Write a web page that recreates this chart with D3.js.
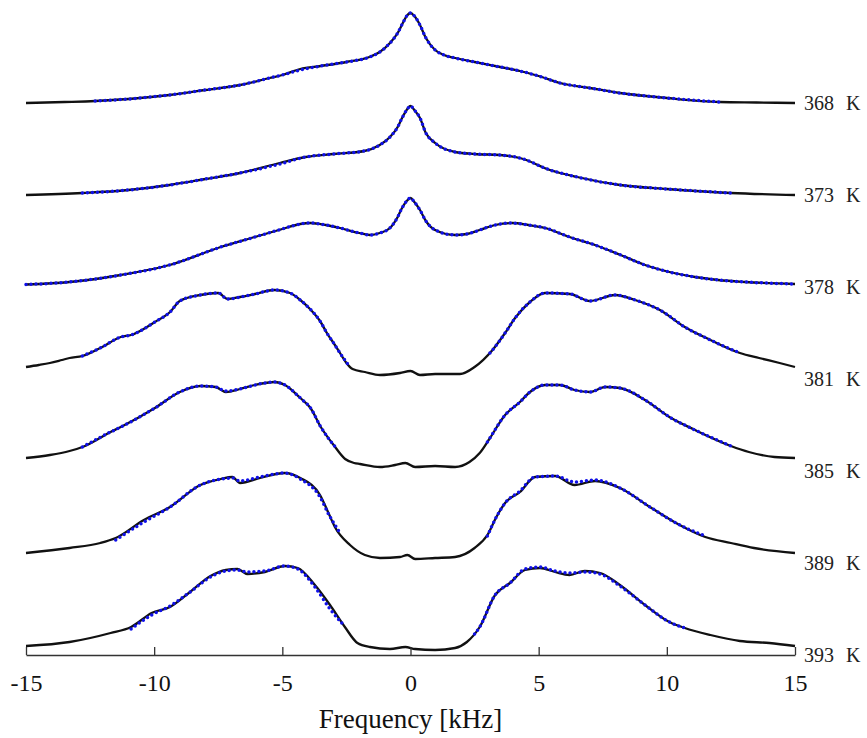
<!DOCTYPE html>
<html><head><meta charset="utf-8">
<script src="https://cdn.jsdelivr.net/npm/d3@7"></script>
<style>body{margin:0;background:#fff}</style>
</head><body>
<svg id="chart" width="867" height="738"></svg>
<script>
// Temperatures (top to bottom)
const temperatures = [368, 373, 378, 381, 385, 389, 393];
const xTicks = [-15, -10, -5, 0, 5, 10, 15];

// Experimental spectra: [frequency kHz, intensity a.u.]
const exp368 = [[-15,0],[-13.5,1],[-12.3,2],[-11,4],[-9.4,8],[-8,13],[-6.65,18],[-5.5,25],[-5,28],[-4.3,34],[-3.5,37],[-2.5,41],[-1.6,46],[-1.2,51],[-0.8,60],[-0.5,70],[-0.3,80],[-0.15,87],[0,90],[0.15,87],[0.35,79],[0.6,65],[0.96,53],[1.3,48],[1.74,45],[2.5,41],[3.5,36],[4.27,32],[5,27],[5.83,20],[7,15],[8.17,10],[10,5],[12.07,1],[13.5,0.5],[15,0]];
const exp373 = [[-15,0],[-12.8,2],[-11,5],[-9.4,10],[-8,16],[-6.65,22],[-5.1,32],[-4.1,38],[-3,41],[-1.8,44],[-1.2,50],[-0.8,58],[-0.5,68],[-0.33,77],[-0.15,85],[0,89],[0.15,85],[0.37,77],[0.6,62],[0.96,52],[1.74,43],[2.5,41],[3.49,40],[4.27,37],[5.44,25],[6.5,18],[8.17,10],[10,6],[12.5,2],[15,0]];
const exp378 = [[-15,2.5],[-13.3,5],[-11.3,12],[-9.4,22],[-7.4,40],[-6.07,50],[-5,58],[-4.3,63],[-3.9,64],[-3.3,62],[-2.75,59],[-2,54],[-1.58,52],[-1.2,54],[-0.8,59],[-0.5,70],[-0.33,79],[-0.15,86],[0,89],[0.15,85],[0.37,77],[0.6,66],[0.96,57],[1.74,52],[2.2,53],[2.7,57],[3.3,62],[3.96,64],[4.6,62],[5.25,59],[6.2,50],[7.2,42],[8.2,32],[9.15,22],[10.1,15],[11.1,10],[12,7],[13.05,5],[15,3]];
const exp381 = [[-15,12],[-14.5,14],[-14.07,16],[-13.6,19],[-13.3,21],[-12.8,23],[-12.1,31],[-11.3,42],[-10.9,44],[-9.97,57],[-9.38,67],[-9,78],[-8.2,84],[-7.5,86],[-7.14,80],[-6.65,82],[-6.07,85],[-5.3,89],[-4.7,86],[-4.3,79],[-3.92,70],[-3.53,58],[-3.24,45],[-3,36],[-2.75,26],[-2.5,16],[-2.26,10],[-1.78,7],[-1.19,4],[-0.41,6],[0,8],[0.37,4],[0.96,5],[1.93,5],[2.5,12],[3.2,29],[3.69,46],[4.08,61],[4.66,77],[5.25,86],[6.22,85],[7,78],[7.98,84],[8.76,79],[9.73,69],[10.7,52],[11.7,39],[12.85,26],[13.6,21],[14.4,16],[15,12]];
const exp385 = [[-15,13],[-14.07,16],[-13.3,20],[-12.8,24],[-11.7,39],[-11.3,44],[-9.97,63],[-9,79],[-8.2,85],[-7.6,84],[-7.2,79],[-6.65,82],[-6.07,86],[-5.3,89],[-4.9,86],[-4.3,73],[-3.9,63],[-3.5,44],[-3,26],[-2.55,12],[-2.2,8],[-1.97,7],[-1.19,4],[-0.6,6],[-0.2,8],[0.18,4],[0.96,5],[1.74,4],[2.3,9],[2.7,18],[3.1,33],[3.69,56],[4.27,69],[4.66,79],[5.25,86],[5.83,86],[6.4,81],[7,79],[7.6,84],[8.17,83],[9.15,71],[10.1,54],[11.1,41],[12.5,25],[13.2,19],[14.2,14],[15,13]];
const exp389 = [[-15,10],[-13.3,15],[-12.1,20],[-11.5,25],[-10.4,43],[-9.38,56],[-8.2,78],[-7.4,84],[-6.95,86],[-6.65,80],[-5.87,85],[-4.9,90],[-4.3,85],[-3.53,68],[-3.2,50],[-2.95,36],[-2.36,18],[-1.78,8],[-1.19,5],[-0.41,6],[-0.12,8],[0.18,4],[0.96,5],[1.74,6],[2.5,15],[3,28],[3.35,46],[3.69,60],[4.27,71],[4.86,86],[5.64,87],[6.4,78],[7.2,82],[8.17,75],[9.34,56],[10.5,38],[11.5,26],[12.5,20],[13.4,15],[15,10]];
const exp393 = [[-15,9],[-13.3,13],[-11.7,22],[-10.9,28],[-10.1,42],[-9.38,48],[-8.6,63],[-7.8,79],[-7.2,85],[-6.75,86],[-6.36,81],[-5.68,83],[-4.9,89],[-4.4,87],[-3.73,70],[-3.14,50],[-2.56,28],[-2.07,12],[-1.58,8],[-0.8,6],[-0.2,8],[0.18,6],[0.96,5],[1.74,7],[2.2,13],[2.7,28],[3.3,60],[3.88,72],[4.47,85],[5.05,87],[5.64,83],[6.2,80],[6.8,84],[7.4,82],[8.17,70],[9.15,50],[10.1,33],[10.7,27],[11.7,20],[12.85,14],[14,12],[15,9]];

// Simulated spectra (blue dotted), each as a list of segments
const sim368 = [[[-12.3,2],[-11,4],[-9.4,8],[-8,13],[-6.65,18],[-5.5,25],[-5,28],[-4.3,33],[-3.5,37],[-2.5,41],[-1.6,46],[-1.2,51],[-0.8,60],[-0.5,70],[-0.3,80],[-0.15,87],[0,90],[0.15,87],[0.35,79],[0.6,65],[0.96,53],[1.3,48],[1.74,45],[2.5,41],[3.5,36],[4.27,32],[5,27],[5.83,20],[7,15],[8.17,10],[10,5],[12.07,1]]];
const sim373 = [[[-12.8,2],[-11,5],[-9.4,10],[-8,16],[-6.65,22],[-5.1,31],[-4.1,38],[-3,41],[-1.8,44],[-1.2,50],[-0.8,58],[-0.5,68],[-0.33,77],[-0.15,85],[0,89],[0.15,85],[0.37,77],[0.6,62],[0.96,52],[1.74,43],[2.5,41],[3.49,40],[4.27,37],[5.44,25],[6.5,18],[8.17,10],[10,6],[12.5,2]]];
const sim378 = [[[-15,2.5],[-13.3,5],[-11.3,12],[-9.4,22],[-7.4,40],[-6.07,50],[-5,58],[-4.3,63],[-3.9,64],[-3.3,62],[-2.75,59],[-2,54],[-1.58,52],[-1.2,54],[-0.8,59],[-0.5,70],[-0.33,79],[-0.15,86],[0,89],[0.15,85],[0.37,77],[0.6,66],[0.96,57],[1.74,52],[2.2,53],[2.7,57],[3.3,62],[3.96,64],[4.6,62],[5.25,59],[6.2,50],[7.2,42],[8.2,32],[9.15,22],[10.1,15],[11.1,10],[12,7],[13.05,5],[15,3]]];
const sim381 = [[[-12.8,23],[-12.1,31],[-11.3,42],[-10.9,44],[-9.97,57],[-9.38,67],[-9,78],[-8.2,84],[-7.5,86],[-7.14,80],[-6.65,82],[-6.07,85],[-5.3,89],[-4.7,86],[-4.3,79],[-3.92,70],[-3.53,58],[-3.24,45],[-3,36],[-2.75,26],[-2.45,15]],
                [[3.1,26],[3.2,29],[3.69,46],[4.08,61],[4.66,77],[5.25,86],[6.22,85],[7,78],[7.98,84],[8.76,79],[9.73,69],[10.7,52],[11.7,39],[12.85,26]]];
const sim385 = [[[-12.8,24],[-11.7,39],[-11.3,44],[-9.97,63],[-9,79],[-8.2,85],[-7.6,84],[-7.2,80],[-6.65,82],[-6.07,86],[-5.3,89],[-4.9,86],[-4.3,73],[-3.9,63],[-3.5,44],[-2.9,23]],
                [[3.0,29],[3.1,33],[3.69,56],[4.27,69],[4.66,79],[5.25,86],[5.83,86],[6.4,81],[7,79],[7.6,84],[8.17,83],[9.15,71],[10.1,54],[11.1,41],[12.5,25]]];
const sim389 = [[[-11.5,23],[-10.4,41],[-9.38,56],[-8.2,78],[-7.4,84],[-6.95,85],[-6.65,82],[-5.87,86],[-4.9,90],[-4.3,84],[-3.53,66],[-3.2,49],[-2.8,32]],
                [[3.0,27],[3.35,46],[3.69,60],[4.27,72],[4.86,86],[5.64,87],[6.4,81],[7.2,83],[8.17,75],[9.34,56],[10.5,38],[11.4,28]]];
const sim393 = [[[-10.9,26],[-10.1,40],[-9.38,49],[-8.6,63],[-7.8,78],[-7.2,84],[-6.75,85],[-6.36,83],[-5.68,84],[-4.9,89],[-4.4,86],[-3.73,68],[-3.14,46],[-2.65,31]],
                [[2.5,21],[2.7,28],[3.3,60],[3.88,72],[4.47,86],[5.05,88],[5.64,84],[6.2,82],[6.8,83],[7.4,81],[8.17,69],[9.15,50],[10.1,33],[10.7,27]]];

const expData = [exp368, exp373, exp378, exp381, exp385, exp389, exp393];
const simData = [sim368, sim373, sim378, sim381, sim385, sim389, sim393];
const stackStep = 92; // intensity units between stacked traces

const svg = d3.select('#chart');
const x = d3.scaleLinear().domain([-15, 15]).range([26, 795]);
const y = d3.scaleLinear().domain([0, 644]).range([655, 11]);
const serif = '"Liberation Serif", "Times New Roman", Times, serif';

temperatures.forEach((t, i) => {
  const offset = (temperatures.length - 1 - i) * stackStep;
  const line = d3.line()
    .x(d => x(d[0]))
    .y(d => y(offset + d[1]))
    .curve(d3.curveMonotoneX);
  svg.append('path')
    .attr('d', line(expData[i]))
    .attr('fill', 'none')
    .attr('stroke', '#111')
    .attr('stroke-width', 2.3)
    .attr('stroke-linejoin', 'round');
  simData[i].forEach(seg => {
    svg.append('path')
      .attr('d', line(seg))
      .attr('fill', 'none')
      .attr('stroke', '#1010e8')
      .attr('stroke-width', 3.5)
      .attr('stroke-linecap', 'round')
      .attr('stroke-dasharray', '0 5');
  });
  const label = svg.append('text')
    .attr('x', x(15) + 9)
    .attr('y', y(offset))
    .attr('dy', '0.35em')
    .attr('font-family', serif)
    .attr('font-size', 20)
    .attr('fill', '#222');
  label.append('tspan').text(t);
  label.append('tspan').attr('x', x(15) + 51).text('K');
});

const axis = d3.axisBottom(x)
  .tickValues(xTicks)
  .tickFormat(d => String(d))
  .tickSizeInner(-8)
  .tickSizeOuter(0)
  .tickPadding(19);
const gAxis = svg.append('g')
  .attr('transform', `translate(0,${y(0)})`)
  .call(axis);
gAxis.select('.domain').attr('stroke', '#333').attr('stroke-width', 1.5);
gAxis.selectAll('.tick line').attr('stroke', '#333').attr('stroke-width', 1.3);
gAxis.selectAll('.tick text')
  .attr('font-family', serif)
  .attr('font-size', 24)
  .attr('fill', '#111');

svg.append('text')
  .attr('x', x(0))
  .attr('y', 728)
  .attr('text-anchor', 'middle')
  .attr('font-family', serif)
  .attr('font-size', 27)
  .attr('fill', '#111')
  .text('Frequency [kHz]');
</script>
</body></html>
